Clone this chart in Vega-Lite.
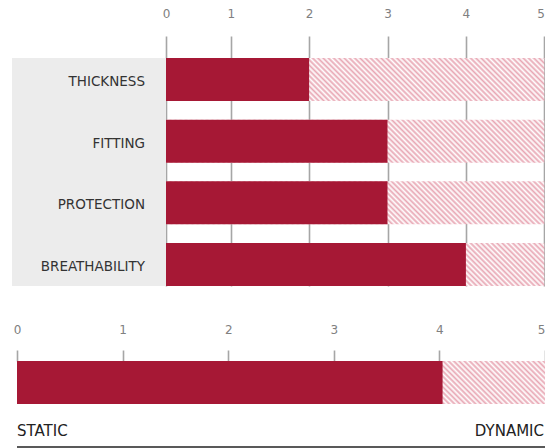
{
  "$schema": "https://vega.github.io/schema/vega-lite/v6.json",
  "background": "white",
  "padding": {"left": 12, "top": 7, "right": 0, "bottom": 0},
  "spacing": 37,
  "config": {"view": {"stroke": null}, "font": "DejaVu Sans"},
  "datasets": {
    "attributes": [
      {"attribute": "THICKNESS", "score": 2, "max": 5},
      {"attribute": "FITTING", "score": 3, "max": 5},
      {"attribute": "PROTECTION", "score": 3, "max": 5},
      {"attribute": "BREATHABILITY", "score": 4, "max": 5}
    ],
    "mobility": [
      {"name": "STATIC / DYNAMIC", "score": 4.03, "max": 5}
    ],
    "ends": [
      {"end": "STATIC", "pos": 0},
      {"end": "DYNAMIC", "pos": 5}
    ]
  },
  "vconcat": [
    {
      "width": 533,
      "height": 228,
      "data": {"name": "attributes"},
      "layer": [
        {
          "data": {"values": [{}]},
          "mark": {"type": "rect", "color": "#ececec"},
          "encoding": {
            "x": {
              "datum": -2,
              "type": "quantitative",
              "title": null,
              "scale": {"domain": [-2, 0, 1, 5], "range": [0, 154, 218.7, 532.3], "nice": false, "zero": false},
              "axis": {
                "orient": "top", "values": [0, 1, 2, 3, 4, 5], "format": "d", "title": null, "labelFlush": false,
                "labelAlign": {"condition": {"test": "datum.value === 5", "value": "right"}, "value": "center"},
                "domain": false, "ticks": true, "tickSize": 22, "tickColor": "#a6a6a6", "tickWidth": 1.6,
                "grid": true, "gridColor": "#a6a6a6", "gridWidth": 1.6,
                "labelFontSize": 12, "labelColor": "#808080", "labelPadding": 16, "labelFont": "DejaVu Sans"
              }
            },
            "x2": {"datum": 0}
          }
        },
        {
          "mark": {
            "type": "bar",
            "fill": {
              "gradient": "linear", "x1": 0, "y1": 1, "x2": 1.0995, "y2": 0.875,
              "stops": [
                {"offset":0,"color":"#e8a7b4"},{"offset":0.00625,"color":"#fff"},{"offset":0.0125,"color":"#e8a7b4"},{"offset":0.01875,"color":"#fff"},{"offset":0.025,"color":"#e8a7b4"},{"offset":0.03125,"color":"#fff"},{"offset":0.0375,"color":"#e8a7b4"},{"offset":0.04375,"color":"#fff"},
                {"offset":0.05,"color":"#e8a7b4"},{"offset":0.05625,"color":"#fff"},{"offset":0.0625,"color":"#e8a7b4"},{"offset":0.06875,"color":"#fff"},{"offset":0.075,"color":"#e8a7b4"},{"offset":0.08125,"color":"#fff"},{"offset":0.0875,"color":"#e8a7b4"},{"offset":0.09375,"color":"#fff"},
                {"offset":0.1,"color":"#e8a7b4"},{"offset":0.10625,"color":"#fff"},{"offset":0.1125,"color":"#e8a7b4"},{"offset":0.11875,"color":"#fff"},{"offset":0.125,"color":"#e8a7b4"},{"offset":0.13125,"color":"#fff"},{"offset":0.1375,"color":"#e8a7b4"},{"offset":0.14375,"color":"#fff"},
                {"offset":0.15,"color":"#e8a7b4"},{"offset":0.15625,"color":"#fff"},{"offset":0.1625,"color":"#e8a7b4"},{"offset":0.16875,"color":"#fff"},{"offset":0.175,"color":"#e8a7b4"},{"offset":0.18125,"color":"#fff"},{"offset":0.1875,"color":"#e8a7b4"},{"offset":0.19375,"color":"#fff"},
                {"offset":0.2,"color":"#e8a7b4"},{"offset":0.20625,"color":"#fff"},{"offset":0.2125,"color":"#e8a7b4"},{"offset":0.21875,"color":"#fff"},{"offset":0.225,"color":"#e8a7b4"},{"offset":0.23125,"color":"#fff"},{"offset":0.2375,"color":"#e8a7b4"},{"offset":0.24375,"color":"#fff"},
                {"offset":0.25,"color":"#e8a7b4"},{"offset":0.25625,"color":"#fff"},{"offset":0.2625,"color":"#e8a7b4"},{"offset":0.26875,"color":"#fff"},{"offset":0.275,"color":"#e8a7b4"},{"offset":0.28125,"color":"#fff"},{"offset":0.2875,"color":"#e8a7b4"},{"offset":0.29375,"color":"#fff"},
                {"offset":0.3,"color":"#e8a7b4"},{"offset":0.30625,"color":"#fff"},{"offset":0.3125,"color":"#e8a7b4"},{"offset":0.31875,"color":"#fff"},{"offset":0.325,"color":"#e8a7b4"},{"offset":0.33125,"color":"#fff"},{"offset":0.3375,"color":"#e8a7b4"},{"offset":0.34375,"color":"#fff"},
                {"offset":0.35,"color":"#e8a7b4"},{"offset":0.35625,"color":"#fff"},{"offset":0.3625,"color":"#e8a7b4"},{"offset":0.36875,"color":"#fff"},{"offset":0.375,"color":"#e8a7b4"},{"offset":0.38125,"color":"#fff"},{"offset":0.3875,"color":"#e8a7b4"},{"offset":0.39375,"color":"#fff"},
                {"offset":0.4,"color":"#e8a7b4"},{"offset":0.40625,"color":"#fff"},{"offset":0.4125,"color":"#e8a7b4"},{"offset":0.41875,"color":"#fff"},{"offset":0.425,"color":"#e8a7b4"},{"offset":0.43125,"color":"#fff"},{"offset":0.4375,"color":"#e8a7b4"},{"offset":0.44375,"color":"#fff"},
                {"offset":0.45,"color":"#e8a7b4"},{"offset":0.45625,"color":"#fff"},{"offset":0.4625,"color":"#e8a7b4"},{"offset":0.46875,"color":"#fff"},{"offset":0.475,"color":"#e8a7b4"},{"offset":0.48125,"color":"#fff"},{"offset":0.4875,"color":"#e8a7b4"},{"offset":0.49375,"color":"#fff"},
                {"offset":0.5,"color":"#e8a7b4"},{"offset":0.50625,"color":"#fff"},{"offset":0.5125,"color":"#e8a7b4"},{"offset":0.51875,"color":"#fff"},{"offset":0.525,"color":"#e8a7b4"},{"offset":0.53125,"color":"#fff"},{"offset":0.5375,"color":"#e8a7b4"},{"offset":0.54375,"color":"#fff"},
                {"offset":0.55,"color":"#e8a7b4"},{"offset":0.55625,"color":"#fff"},{"offset":0.5625,"color":"#e8a7b4"},{"offset":0.56875,"color":"#fff"},{"offset":0.575,"color":"#e8a7b4"},{"offset":0.58125,"color":"#fff"},{"offset":0.5875,"color":"#e8a7b4"},{"offset":0.59375,"color":"#fff"},
                {"offset":0.6,"color":"#e8a7b4"},{"offset":0.60625,"color":"#fff"},{"offset":0.6125,"color":"#e8a7b4"},{"offset":0.61875,"color":"#fff"},{"offset":0.625,"color":"#e8a7b4"},{"offset":0.63125,"color":"#fff"},{"offset":0.6375,"color":"#e8a7b4"},{"offset":0.64375,"color":"#fff"},
                {"offset":0.65,"color":"#e8a7b4"},{"offset":0.65625,"color":"#fff"},{"offset":0.6625,"color":"#e8a7b4"},{"offset":0.66875,"color":"#fff"},{"offset":0.675,"color":"#e8a7b4"},{"offset":0.68125,"color":"#fff"},{"offset":0.6875,"color":"#e8a7b4"},{"offset":0.69375,"color":"#fff"},
                {"offset":0.7,"color":"#e8a7b4"},{"offset":0.70625,"color":"#fff"},{"offset":0.7125,"color":"#e8a7b4"},{"offset":0.71875,"color":"#fff"},{"offset":0.725,"color":"#e8a7b4"},{"offset":0.73125,"color":"#fff"},{"offset":0.7375,"color":"#e8a7b4"},{"offset":0.74375,"color":"#fff"},
                {"offset":0.75,"color":"#e8a7b4"},{"offset":0.75625,"color":"#fff"},{"offset":0.7625,"color":"#e8a7b4"},{"offset":0.76875,"color":"#fff"},{"offset":0.775,"color":"#e8a7b4"},{"offset":0.78125,"color":"#fff"},{"offset":0.7875,"color":"#e8a7b4"},{"offset":0.79375,"color":"#fff"},
                {"offset":0.8,"color":"#e8a7b4"},{"offset":0.80625,"color":"#fff"},{"offset":0.8125,"color":"#e8a7b4"},{"offset":0.81875,"color":"#fff"},{"offset":0.825,"color":"#e8a7b4"},{"offset":0.83125,"color":"#fff"},{"offset":0.8375,"color":"#e8a7b4"},{"offset":0.84375,"color":"#fff"},
                {"offset":0.85,"color":"#e8a7b4"},{"offset":0.85625,"color":"#fff"},{"offset":0.8625,"color":"#e8a7b4"},{"offset":0.86875,"color":"#fff"},{"offset":0.875,"color":"#e8a7b4"},{"offset":0.88125,"color":"#fff"},{"offset":0.8875,"color":"#e8a7b4"},{"offset":0.89375,"color":"#fff"},
                {"offset":0.9,"color":"#e8a7b4"},{"offset":0.90625,"color":"#fff"},{"offset":0.9125,"color":"#e8a7b4"},{"offset":0.91875,"color":"#fff"},{"offset":0.925,"color":"#e8a7b4"},{"offset":0.93125,"color":"#fff"},{"offset":0.9375,"color":"#e8a7b4"},{"offset":0.94375,"color":"#fff"},
                {"offset":0.95,"color":"#e8a7b4"},{"offset":0.95625,"color":"#fff"},{"offset":0.9625,"color":"#e8a7b4"},{"offset":0.96875,"color":"#fff"},{"offset":0.975,"color":"#e8a7b4"},{"offset":0.98125,"color":"#fff"},{"offset":0.9875,"color":"#e8a7b4"},{"offset":0.99375,"color":"#fff"},
                {"offset":1,"color":"#e8a7b4"}
              ]
            }
          },
          "encoding": {
            "x": {"field": "max", "type": "quantitative", "title": null},
            "x2": {"datum": 0},
            "y": {
              "field": "attribute", "type": "nominal", "sort": null, "axis": null,
              "scale": {"domain": ["THICKNESS", "FITTING", "PROTECTION", "BREATHABILITY"], "paddingInner": 0.3027, "paddingOuter": 0}
            }
          }
        },
        {
          "mark": {"type": "bar", "color": "#a61835"},
          "encoding": {
            "x": {"field": "score", "type": "quantitative", "title": null},
            "x2": {"datum": 0},
            "y": {
              "field": "attribute", "type": "nominal", "sort": null, "axis": null,
              "scale": {"domain": ["THICKNESS", "FITTING", "PROTECTION", "BREATHABILITY"], "paddingInner": 0.3027, "paddingOuter": 0}
            }
          }
        },
        {
          "mark": {"type": "text", "align": "right", "baseline": "middle", "dx": -21, "dy": 2.5, "fontSize": 13.5, "font": "DejaVu Sans", "color": "#333333"},
          "encoding": {
            "x": {"datum": 0, "type": "quantitative", "title": null},
            "y": {
              "field": "attribute", "type": "nominal", "sort": null, "axis": null,
              "scale": {"domain": ["THICKNESS", "FITTING", "PROTECTION", "BREATHABILITY"], "paddingInner": 0.3027, "paddingOuter": 0}
            },
            "text": {"field": "attribute"}
          }
        }
      ]
    },
    {
      "width": 533,
      "height": 86,
      "layer": [
        {
          "data": {"name": "mobility"},
          "mark": {
            "type": "rect",
            "fill": {
              "gradient": "linear", "x1": 0, "y1": 1, "x2": 1.2399, "y2": 0.899,
              "stops": [
                {"offset":0,"color":"#e8a7b4"},{"offset":0.004,"color":"#fff"},{"offset":0.008,"color":"#e8a7b4"},{"offset":0.012,"color":"#fff"},{"offset":0.016,"color":"#e8a7b4"},{"offset":0.02,"color":"#fff"},{"offset":0.024,"color":"#e8a7b4"},{"offset":0.028,"color":"#fff"},{"offset":0.032,"color":"#e8a7b4"},{"offset":0.036,"color":"#fff"},
                {"offset":0.04,"color":"#e8a7b4"},{"offset":0.044,"color":"#fff"},{"offset":0.048,"color":"#e8a7b4"},{"offset":0.052,"color":"#fff"},{"offset":0.056,"color":"#e8a7b4"},{"offset":0.06,"color":"#fff"},{"offset":0.064,"color":"#e8a7b4"},{"offset":0.068,"color":"#fff"},{"offset":0.072,"color":"#e8a7b4"},{"offset":0.076,"color":"#fff"},
                {"offset":0.08,"color":"#e8a7b4"},{"offset":0.084,"color":"#fff"},{"offset":0.088,"color":"#e8a7b4"},{"offset":0.092,"color":"#fff"},{"offset":0.096,"color":"#e8a7b4"},{"offset":0.1,"color":"#fff"},{"offset":0.104,"color":"#e8a7b4"},{"offset":0.108,"color":"#fff"},{"offset":0.112,"color":"#e8a7b4"},{"offset":0.116,"color":"#fff"},
                {"offset":0.12,"color":"#e8a7b4"},{"offset":0.124,"color":"#fff"},{"offset":0.128,"color":"#e8a7b4"},{"offset":0.132,"color":"#fff"},{"offset":0.136,"color":"#e8a7b4"},{"offset":0.14,"color":"#fff"},{"offset":0.144,"color":"#e8a7b4"},{"offset":0.148,"color":"#fff"},{"offset":0.152,"color":"#e8a7b4"},{"offset":0.156,"color":"#fff"},
                {"offset":0.16,"color":"#e8a7b4"},{"offset":0.164,"color":"#fff"},{"offset":0.168,"color":"#e8a7b4"},{"offset":0.172,"color":"#fff"},{"offset":0.176,"color":"#e8a7b4"},{"offset":0.18,"color":"#fff"},{"offset":0.184,"color":"#e8a7b4"},{"offset":0.188,"color":"#fff"},{"offset":0.192,"color":"#e8a7b4"},{"offset":0.196,"color":"#fff"},
                {"offset":0.2,"color":"#e8a7b4"},{"offset":0.204,"color":"#fff"},{"offset":0.208,"color":"#e8a7b4"},{"offset":0.212,"color":"#fff"},{"offset":0.216,"color":"#e8a7b4"},{"offset":0.22,"color":"#fff"},{"offset":0.224,"color":"#e8a7b4"},{"offset":0.228,"color":"#fff"},{"offset":0.232,"color":"#e8a7b4"},{"offset":0.236,"color":"#fff"},
                {"offset":0.24,"color":"#e8a7b4"},{"offset":0.244,"color":"#fff"},{"offset":0.248,"color":"#e8a7b4"},{"offset":0.252,"color":"#fff"},{"offset":0.256,"color":"#e8a7b4"},{"offset":0.26,"color":"#fff"},{"offset":0.264,"color":"#e8a7b4"},{"offset":0.268,"color":"#fff"},{"offset":0.272,"color":"#e8a7b4"},{"offset":0.276,"color":"#fff"},
                {"offset":0.28,"color":"#e8a7b4"},{"offset":0.284,"color":"#fff"},{"offset":0.288,"color":"#e8a7b4"},{"offset":0.292,"color":"#fff"},{"offset":0.296,"color":"#e8a7b4"},{"offset":0.3,"color":"#fff"},{"offset":0.304,"color":"#e8a7b4"},{"offset":0.308,"color":"#fff"},{"offset":0.312,"color":"#e8a7b4"},{"offset":0.316,"color":"#fff"},
                {"offset":0.32,"color":"#e8a7b4"},{"offset":0.324,"color":"#fff"},{"offset":0.328,"color":"#e8a7b4"},{"offset":0.332,"color":"#fff"},{"offset":0.336,"color":"#e8a7b4"},{"offset":0.34,"color":"#fff"},{"offset":0.344,"color":"#e8a7b4"},{"offset":0.348,"color":"#fff"},{"offset":0.352,"color":"#e8a7b4"},{"offset":0.356,"color":"#fff"},
                {"offset":0.36,"color":"#e8a7b4"},{"offset":0.364,"color":"#fff"},{"offset":0.368,"color":"#e8a7b4"},{"offset":0.372,"color":"#fff"},{"offset":0.376,"color":"#e8a7b4"},{"offset":0.38,"color":"#fff"},{"offset":0.384,"color":"#e8a7b4"},{"offset":0.388,"color":"#fff"},{"offset":0.392,"color":"#e8a7b4"},{"offset":0.396,"color":"#fff"},
                {"offset":0.4,"color":"#e8a7b4"},{"offset":0.404,"color":"#fff"},{"offset":0.408,"color":"#e8a7b4"},{"offset":0.412,"color":"#fff"},{"offset":0.416,"color":"#e8a7b4"},{"offset":0.42,"color":"#fff"},{"offset":0.424,"color":"#e8a7b4"},{"offset":0.428,"color":"#fff"},{"offset":0.432,"color":"#e8a7b4"},{"offset":0.436,"color":"#fff"},
                {"offset":0.44,"color":"#e8a7b4"},{"offset":0.444,"color":"#fff"},{"offset":0.448,"color":"#e8a7b4"},{"offset":0.452,"color":"#fff"},{"offset":0.456,"color":"#e8a7b4"},{"offset":0.46,"color":"#fff"},{"offset":0.464,"color":"#e8a7b4"},{"offset":0.468,"color":"#fff"},{"offset":0.472,"color":"#e8a7b4"},{"offset":0.476,"color":"#fff"},
                {"offset":0.48,"color":"#e8a7b4"},{"offset":0.484,"color":"#fff"},{"offset":0.488,"color":"#e8a7b4"},{"offset":0.492,"color":"#fff"},{"offset":0.496,"color":"#e8a7b4"},{"offset":0.5,"color":"#fff"},{"offset":0.504,"color":"#e8a7b4"},{"offset":0.508,"color":"#fff"},{"offset":0.512,"color":"#e8a7b4"},{"offset":0.516,"color":"#fff"},
                {"offset":0.52,"color":"#e8a7b4"},{"offset":0.524,"color":"#fff"},{"offset":0.528,"color":"#e8a7b4"},{"offset":0.532,"color":"#fff"},{"offset":0.536,"color":"#e8a7b4"},{"offset":0.54,"color":"#fff"},{"offset":0.544,"color":"#e8a7b4"},{"offset":0.548,"color":"#fff"},{"offset":0.552,"color":"#e8a7b4"},{"offset":0.556,"color":"#fff"},
                {"offset":0.56,"color":"#e8a7b4"},{"offset":0.564,"color":"#fff"},{"offset":0.568,"color":"#e8a7b4"},{"offset":0.572,"color":"#fff"},{"offset":0.576,"color":"#e8a7b4"},{"offset":0.58,"color":"#fff"},{"offset":0.584,"color":"#e8a7b4"},{"offset":0.588,"color":"#fff"},{"offset":0.592,"color":"#e8a7b4"},{"offset":0.596,"color":"#fff"},
                {"offset":0.6,"color":"#e8a7b4"},{"offset":0.604,"color":"#fff"},{"offset":0.608,"color":"#e8a7b4"},{"offset":0.612,"color":"#fff"},{"offset":0.616,"color":"#e8a7b4"},{"offset":0.62,"color":"#fff"},{"offset":0.624,"color":"#e8a7b4"},{"offset":0.628,"color":"#fff"},{"offset":0.632,"color":"#e8a7b4"},{"offset":0.636,"color":"#fff"},
                {"offset":0.64,"color":"#e8a7b4"},{"offset":0.644,"color":"#fff"},{"offset":0.648,"color":"#e8a7b4"},{"offset":0.652,"color":"#fff"},{"offset":0.656,"color":"#e8a7b4"},{"offset":0.66,"color":"#fff"},{"offset":0.664,"color":"#e8a7b4"},{"offset":0.668,"color":"#fff"},{"offset":0.672,"color":"#e8a7b4"},{"offset":0.676,"color":"#fff"},
                {"offset":0.68,"color":"#e8a7b4"},{"offset":0.684,"color":"#fff"},{"offset":0.688,"color":"#e8a7b4"},{"offset":0.692,"color":"#fff"},{"offset":0.696,"color":"#e8a7b4"},{"offset":0.7,"color":"#fff"},{"offset":0.704,"color":"#e8a7b4"},{"offset":0.708,"color":"#fff"},{"offset":0.712,"color":"#e8a7b4"},{"offset":0.716,"color":"#fff"},
                {"offset":0.72,"color":"#e8a7b4"},{"offset":0.724,"color":"#fff"},{"offset":0.728,"color":"#e8a7b4"},{"offset":0.732,"color":"#fff"},{"offset":0.736,"color":"#e8a7b4"},{"offset":0.74,"color":"#fff"},{"offset":0.744,"color":"#e8a7b4"},{"offset":0.748,"color":"#fff"},{"offset":0.752,"color":"#e8a7b4"},{"offset":0.756,"color":"#fff"},
                {"offset":0.76,"color":"#e8a7b4"},{"offset":0.764,"color":"#fff"},{"offset":0.768,"color":"#e8a7b4"},{"offset":0.772,"color":"#fff"},{"offset":0.776,"color":"#e8a7b4"},{"offset":0.78,"color":"#fff"},{"offset":0.784,"color":"#e8a7b4"},{"offset":0.788,"color":"#fff"},{"offset":0.792,"color":"#e8a7b4"},{"offset":0.796,"color":"#fff"},
                {"offset":0.8,"color":"#e8a7b4"},{"offset":0.804,"color":"#fff"},{"offset":0.808,"color":"#e8a7b4"},{"offset":0.812,"color":"#fff"},{"offset":0.816,"color":"#e8a7b4"},{"offset":0.82,"color":"#fff"},{"offset":0.824,"color":"#e8a7b4"},{"offset":0.828,"color":"#fff"},{"offset":0.832,"color":"#e8a7b4"},{"offset":0.836,"color":"#fff"},
                {"offset":0.84,"color":"#e8a7b4"},{"offset":0.844,"color":"#fff"},{"offset":0.848,"color":"#e8a7b4"},{"offset":0.852,"color":"#fff"},{"offset":0.856,"color":"#e8a7b4"},{"offset":0.86,"color":"#fff"},{"offset":0.864,"color":"#e8a7b4"},{"offset":0.868,"color":"#fff"},{"offset":0.872,"color":"#e8a7b4"},{"offset":0.876,"color":"#fff"}
              ]
            }
          },
          "encoding": {
            "x": {
              "field": "max", "type": "quantitative", "title": null,
              "scale": {"domain": [0, 5], "range": [5, 533], "nice": false, "zero": false},
              "axis": {
                "orient": "top", "values": [0, 1, 2, 3, 4, 5], "format": "d", "title": null, "labelFlush": false,
                "labelAlign": {"condition": {"test": "datum.value === 5", "value": "right"}, "value": "center"},
                "domain": false, "ticks": true, "tickSize": 11, "tickColor": "#a6a6a6", "tickWidth": 1.6,
                "grid": false, "labelFontSize": 12, "labelColor": "#808080", "labelPadding": 14, "labelFont": "DejaVu Sans"
              }
            },
            "x2": {"datum": 0},
            "y": {"datum": 0, "type": "quantitative", "scale": {"domain": [0, 2], "reverse": true, "nice": false, "zero": false}, "axis": null},
            "y2": {"datum": 1}
          }
        },
        {
          "data": {"name": "mobility"},
          "mark": {"type": "rect", "color": "#a61835"},
          "encoding": {
            "x": {"field": "score", "type": "quantitative", "title": null},
            "x2": {"datum": 0},
            "y": {"datum": 0, "type": "quantitative", "axis": null},
            "y2": {"datum": 1}
          }
        },
        {
          "data": {"name": "ends"},
          "transform": [{"filter": "datum.end === 'STATIC'"}],
          "mark": {"type": "text", "align": "left", "baseline": "middle", "fontSize": 15, "font": "DejaVu Sans", "color": "#222222"},
          "encoding": {
            "x": {"field": "pos", "type": "quantitative", "title": null},
            "y": {"datum": 1.63, "type": "quantitative", "axis": null},
            "text": {"field": "end"}
          }
        },
        {
          "data": {"name": "ends"},
          "transform": [{"filter": "datum.end === 'DYNAMIC'"}],
          "mark": {"type": "text", "align": "right", "baseline": "middle", "dx": -1, "fontSize": 15, "font": "DejaVu Sans", "color": "#222222"},
          "encoding": {
            "x": {"field": "pos", "type": "quantitative", "title": null},
            "y": {"datum": 1.63, "type": "quantitative", "axis": null},
            "text": {"field": "end"}
          }
        },
        {
          "data": {"values": [{}]},
          "mark": {"type": "rule", "color": "#222222", "strokeWidth": 1.5},
          "encoding": {
            "x": {"datum": 0, "type": "quantitative", "title": null},
            "x2": {"datum": 5},
            "y": {"datum": 2, "type": "quantitative", "axis": null}
          }
        }
      ]
    }
  ]
}
